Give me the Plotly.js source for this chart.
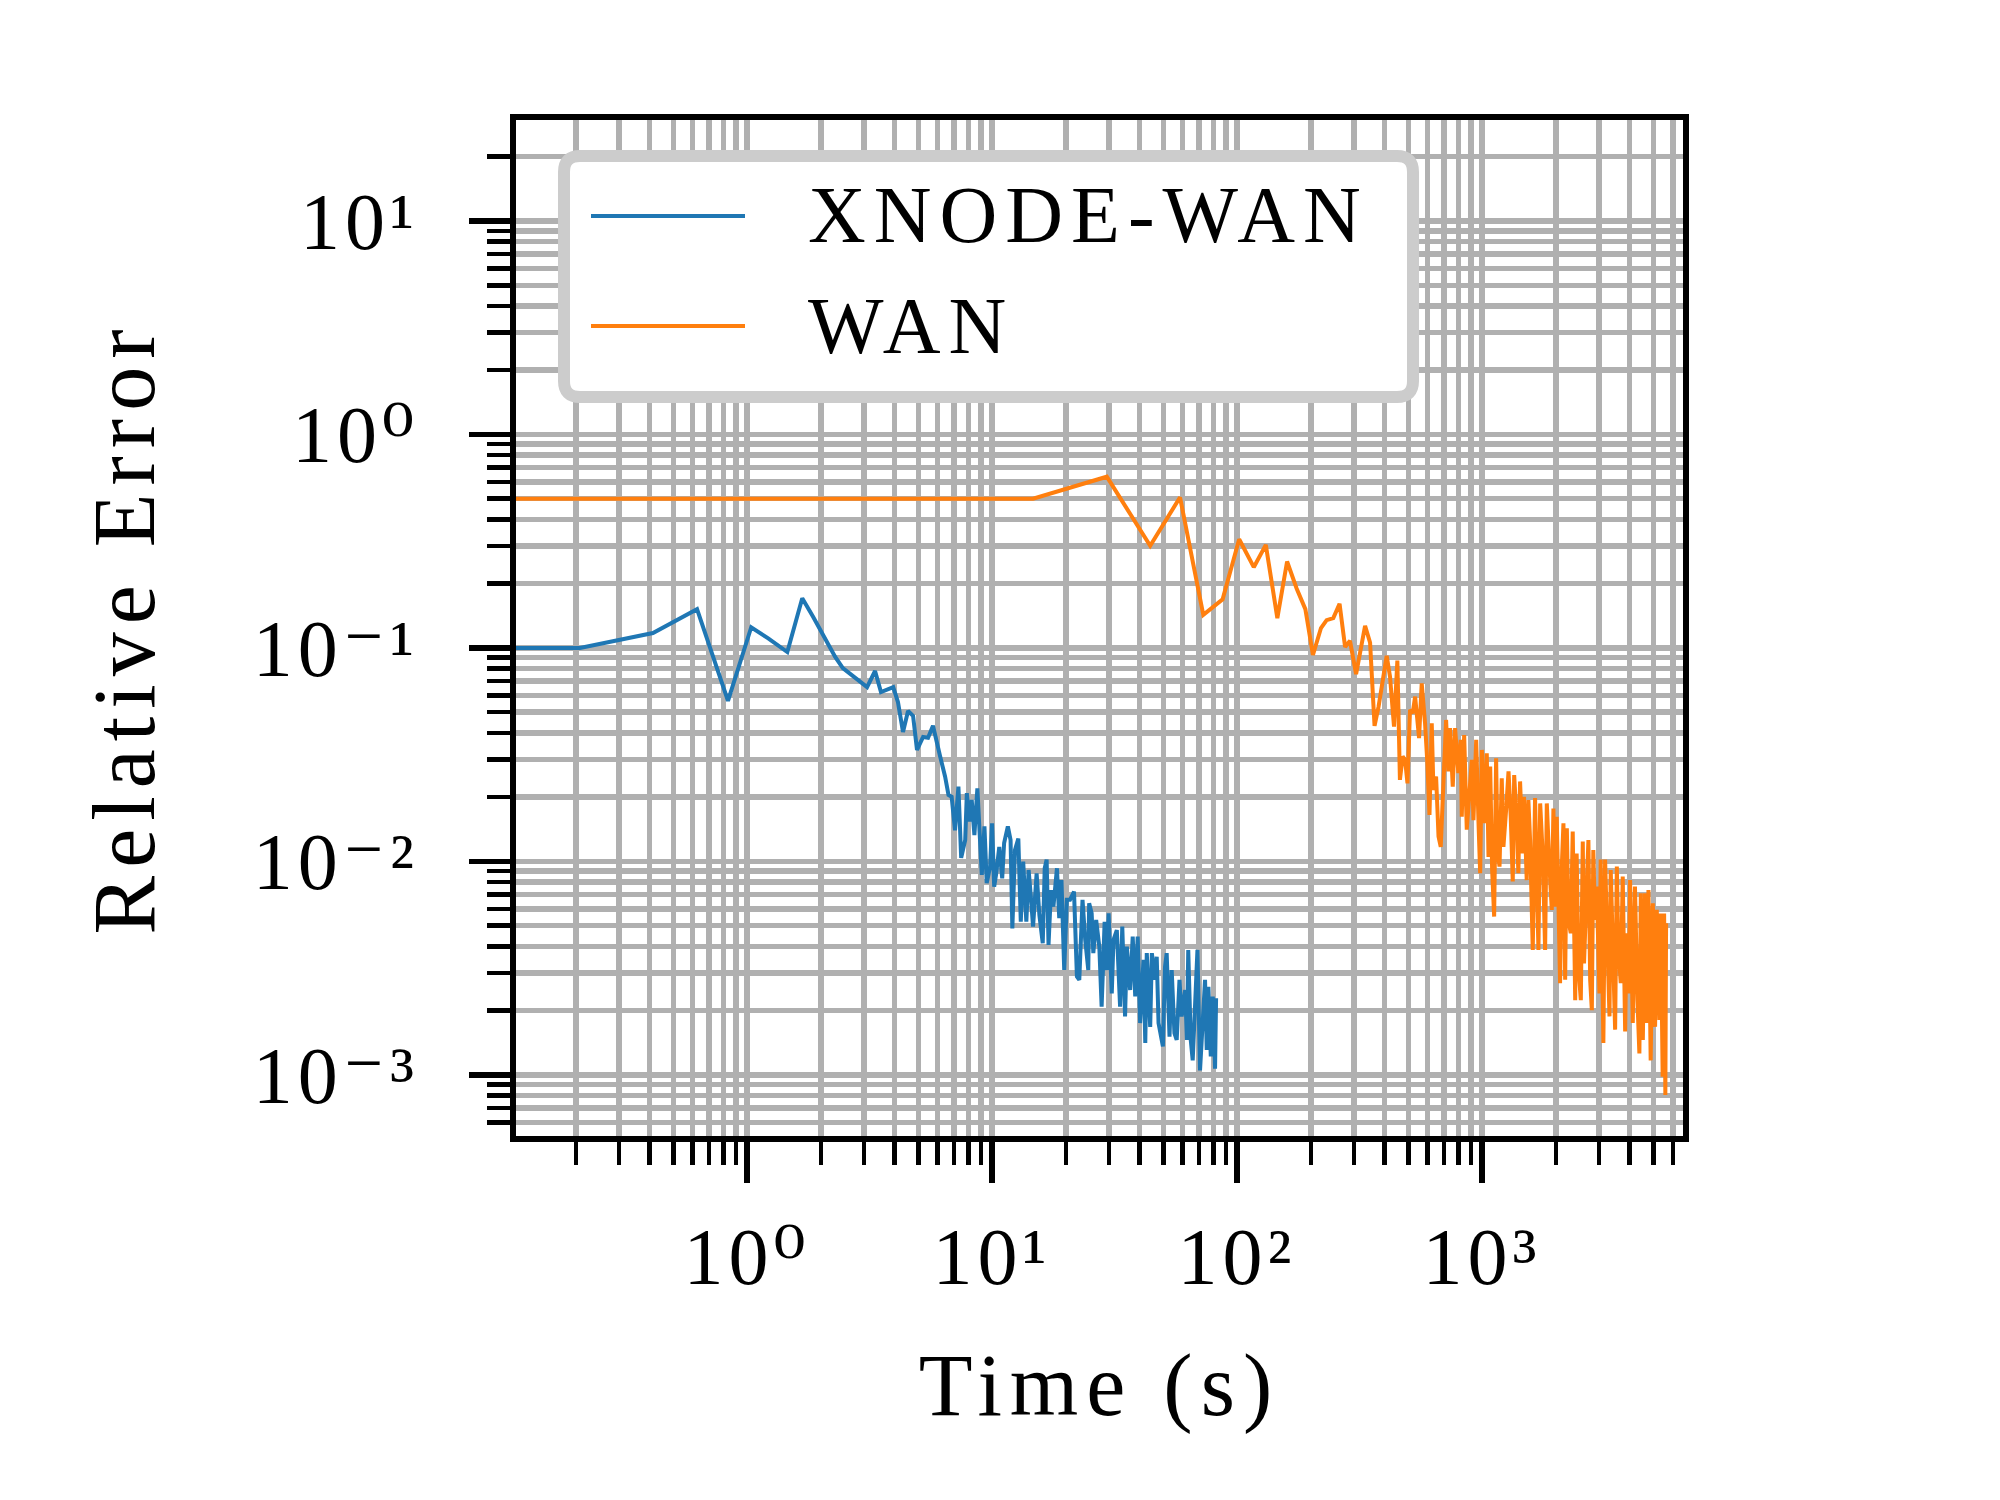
<!DOCTYPE html>
<html>
<head>
<meta charset="utf-8">
<script src="https://cdn.plot.ly/plotly-3.0.1.min.js"></script>
<style>
  html, body { margin: 0; padding: 0; background: #ffffff; }
  #chart { width: 2000px; height: 1500px; }
  .xtick text, .ytick text { letter-spacing: 5px; }
  .xtitle, .ytitle { letter-spacing: 8px; }
  .annotation-text { letter-spacing: 8px; }
</style>
</head>
<body>
<div id="chart"></div>
<script>
// ---------------- data ----------------
const seriesNames = ['XNODE-WAN', 'WAN'];

const xnodeTime = [
  0.11, 0.208, 0.413, 0.625, 0.836, 1.04, 1.22, 1.46, 1.68, 1.86,
  2.29, 2.46, 3.09, 3.33, 3.52, 3.95, 4.13, 4.33, 4.54, 4.76,
  4.94, 5.23, 5.48, 5.74,
  6.14, 6.43, 6.64, 6.84, 7.06, 7.29, 7.48, 7.77, 7.89, 8.09,
  8.26, 8.47, 8.71, 9.08, 9.31, 9.51, 9.82, 10.0, 10.2, 10.4,
  10.7, 11.0, 11.2, 11.6, 11.9, 12.1, 12.4, 12.8, 13.1, 13.4,
  13.8, 14.1, 14.4, 14.7, 15.2, 15.6, 16.1, 16.4, 16.7, 17.0,
  17.4, 17.8, 18.4, 18.8, 19.2, 19.7, 20.2, 20.8, 21.6, 22.2,
  22.7, 23.4, 24.0, 24.7, 24.9, 25.5, 25.9, 26.6, 27.4, 28.0,
  28.8, 29.4, 29.9, 30.8, 31.3, 32.3, 33.3, 34.0, 34.9, 35.5,
  36.6, 37.5, 38.4, 39.3, 40.2, 41.5, 42.2, 42.8, 44.2, 44.9,
  46.3, 47.0, 47.8, 49.0, 49.8, 50.8, 51.6, 53.0, 54.1, 55.5,
  56.7, 58.2, 59.4, 61.4, 62.4, 63.2, 64.7, 65.9, 67.4, 68.9,
  70.6, 72.4, 74.0, 75.2, 76.4, 78.1, 79.6, 81.3, 82.1
];
const xnodeError = [
  0.1, 0.1, 0.1175, 0.152, 0.0565, 0.125, 0.111, 0.0957, 0.171, 0.140,
  0.0908, 0.0805, 0.0656, 0.078, 0.0622, 0.0656, 0.0558, 0.0404, 0.0507, 0.0481,
  0.0333, 0.0383, 0.038, 0.0432,
  0.0310, 0.0250, 0.0205, 0.0201, 0.0140, 0.0224, 0.0104, 0.0126, 0.0209, 0.0154,
  0.0194, 0.0133, 0.0220, 0.00865, 0.0146, 0.00791, 0.00946, 0.0151, 0.00762, 0.00879,
  0.0117, 0.00834, 0.0122, 0.0146, 0.0126, 0.00486, 0.0113, 0.0128, 0.00522, 0.00998,
  0.00522, 0.00912, 0.00684, 0.00495, 0.00879, 0.00561, 0.00414, 0.00929, 0.0102, 0.00406,
  0.00734, 0.00614, 0.00929, 0.00542, 0.00818, 0.00310, 0.00661, 0.00661, 0.00722, 0.00289,
  0.00279, 0.00661, 0.00429, 0.00310, 0.00637, 0.00571, 0.00372, 0.00532, 0.00399, 0.00209,
  0.00522, 0.00310, 0.00571, 0.00241, 0.00429, 0.00477, 0.00209, 0.00495, 0.00188, 0.00399,
  0.00250, 0.00445, 0.00233, 0.00445, 0.00175, 0.00346, 0.00141, 0.00372, 0.00168, 0.00372,
  0.00279, 0.00358, 0.00175, 0.00146, 0.00136, 0.00321, 0.00372, 0.00151, 0.00310, 0.00157,
  0.00146, 0.00279, 0.00188, 0.00250, 0.00146, 0.00385, 0.00146, 0.00117, 0.00195, 0.00385,
  0.00105, 0.00188, 0.00279, 0.00131, 0.00259, 0.00122, 0.00233, 0.00107, 0.00229
];

const wanTime = [
  0.11, 14.7, 29.4, 44.2, 58.5, 72.8, 87.3, 102, 117, 131,
  146, 160, 175, 190, 204, 220, 232, 247, 262, 276,
  289, 306, 333, 349, 364, 378, 408, 421, 437, 451,
  462, 474, 485, 496, 508, 521, 533, 541, 553, 567,
  585, 598, 610, 623, 633, 649, 664, 678, 695, 713,
  728, 740, 759, 776, 800, 818, 826, 845, 866, 888,
  908, 922, 946, 967, 982, 998, 1020, 1045, 1062, 1079,
  1099, 1120, 1141, 1156, 1178, 1203, 1222, 1253, 1282, 1309,
  1334, 1352, 1386, 1406, 1429, 1466, 1483, 1521, 1545, 1570,
  1610, 1645, 1671, 1698, 1726, 1770, 1808, 1837, 1884, 1925,
  1955, 1986, 2017, 2081, 2115, 2148, 2183, 2218, 2250, 2301,
  2344, 2399, 2432, 2472, 2529, 2576, 2606, 2673, 2716, 2761,
  2805, 2844, 2891, 2938, 3013, 3048, 3126, 3177, 3251, 3311,
  3350, 3412, 3491, 3548, 3597, 3681, 3750, 3836, 3890, 3972,
  4018, 4121, 4207, 4305, 4385, 4446, 4529, 4624, 4699, 4775,
  4876, 4977, 5082, 5164, 5292, 5358, 5458, 5533, 5597, 5636
];
const wanError = [
  0.5, 0.5, 0.634, 0.301, 0.508, 0.143, 0.169, 0.323, 0.239, 0.304,
  0.138, 0.254, 0.190, 0.152, 0.0927, 0.124, 0.135, 0.138, 0.161, 0.101,
  0.108, 0.0755, 0.127, 0.106, 0.0432, 0.0531, 0.0918, 0.0734, 0.0428, 0.0873,
  0.0241, 0.0310, 0.0299, 0.0232, 0.0513, 0.0495, 0.0592, 0.0495, 0.0378, 0.0683,
  0.0444, 0.0288, 0.0165, 0.0444, 0.0216, 0.0250, 0.0131, 0.0117, 0.0250, 0.0460,
  0.0264, 0.0421, 0.0224, 0.0421, 0.0259, 0.0371, 0.0162, 0.0391, 0.0141, 0.0209,
  0.0299, 0.0156, 0.0371, 0.0151, 0.00881, 0.0333, 0.0151, 0.0321, 0.0105, 0.0278,
  0.00912, 0.00552, 0.0304, 0.0113, 0.00946, 0.0245, 0.0117, 0.0174, 0.0264, 0.0162,
  0.00805, 0.0254, 0.0151, 0.00881, 0.0237, 0.0109, 0.0201, 0.00818, 0.0194, 0.0126,
  0.00385, 0.0198, 0.00946, 0.00385, 0.0187, 0.0105, 0.00385, 0.0187, 0.00946, 0.00593,
  0.0177, 0.00614, 0.0162, 0.00269, 0.00946, 0.0151, 0.00279, 0.0143, 0.00532, 0.00461,
  0.0138, 0.00224, 0.0109, 0.00321, 0.00224, 0.0124, 0.00333, 0.00684, 0.0126, 0.00279,
  0.00201, 0.0113, 0.00532, 0.00762, 0.00241, 0.0102, 0.00141, 0.0102, 0.00372, 0.00188,
  0.00912, 0.00429, 0.00163, 0.00946, 0.00399, 0.00269, 0.00849, 0.00160, 0.00461, 0.00241,
  0.00818, 0.00175, 0.00762, 0.00224, 0.00126, 0.00710, 0.00146, 0.00710, 0.00175, 0.00734,
  0.00117, 0.00637, 0.00168, 0.00593, 0.00181, 0.00571, 0.00098, 0.00571, 0.000805, 0.00513
];

const xTickVals = [1, 10, 100, 1000];
const xTickText = ['10\u2070', '10\u00b9', '10\u00b2', '10\u00b3'];
const yTickVals = [0.001, 0.01, 0.1, 1, 10];
const yTickText = ['10\u207b\u00b3', '10\u207b\u00b2', '10\u207b\u00b9', '10\u2070', '10\u00b9'];
const xTitle = 'Time (s)';
const yTitle = 'Relative Error';

// ---------------- styling / layout ----------------
const W = 2000, H = 1500;
const L = 516, R = 1683, T = 120, B = 1136;
const X_RANGE = [-0.943, 3.820];
const Y_RANGE = [-3.286, 1.473];
const FONT = '"Liberation Serif", "DejaVu Serif", serif';
const TICK_SIZE = 80;
const GRID = '#b0b0b0';
const COLORS = ['#1f77b4', '#ff7f0e'];

function minorVals(lo, hi) {
  const out = [];
  for (let k = lo; k <= hi; k++) {
    for (let m = 2; m <= 9; m++) out.push(m * Math.pow(10, k));
  }
  return out;
}

const px = x => (x - L) / (R - L);
const py = y => (B - y) / (B - T);

function roundRect(x0, y0, x1, y1, r) {
  const X0 = px(x0), X1 = px(x1), Y0 = py(y0), Y1 = py(y1);
  const rx = r / (R - L), ry = r / (B - T);
  return 'M' + (X0 + rx) + ',' + Y0 +
    ' L' + (X1 - rx) + ',' + Y0 +
    ' Q' + X1 + ',' + Y0 + ' ' + X1 + ',' + (Y0 - ry) +
    ' L' + X1 + ',' + (Y1 + ry) +
    ' Q' + X1 + ',' + Y1 + ' ' + (X1 - rx) + ',' + Y1 +
    ' L' + (X0 + rx) + ',' + Y1 +
    ' Q' + X0 + ',' + Y1 + ' ' + X0 + ',' + (Y1 + ry) +
    ' L' + X0 + ',' + (Y0 - ry) +
    ' Q' + X0 + ',' + Y0 + ' ' + (X0 + rx) + ',' + Y0 + ' Z';
}

const traces = [
  { x: xnodeTime, y: xnodeError, name: seriesNames[0], type: 'scatter', mode: 'lines',
    line: { color: COLORS[0], width: 4 } },
  { x: wanTime, y: wanError, name: seriesNames[1], type: 'scatter', mode: 'lines',
    line: { color: COLORS[1], width: 4 } }
];

const axisCommon = {
  type: 'log',
  showgrid: true, gridcolor: GRID, gridwidth: 5.5,
  showline: true, linecolor: '#000000', linewidth: 6, mirror: true,
  ticks: 'outside', ticklen: 41, tickwidth: 5.5, tickcolor: '#000000',
  tickfont: { family: FONT, size: TICK_SIZE, color: '#000000' },
  tickangle: 0,
  zeroline: false,
  automargin: false
};

const layout = {
  width: W, height: H,
  paper_bgcolor: '#ffffff', plot_bgcolor: '#ffffff',
  margin: { l: L, r: W - R, t: T, b: H - B, pad: 0 },
  showlegend: false,
  hovermode: false,
  font: { family: FONT, color: '#000000' },
  xaxis: Object.assign({}, axisCommon, {
    range: X_RANGE,
    tickmode: 'array', tickvals: xTickVals, ticktext: xTickText,
    ticklabelstandoff: 5,
    minor: { tickmode: 'array', tickvals: minorVals(-1, 3), ticks: 'outside', ticklen: 23,
             tickwidth: 4.5, tickcolor: '#000000', showgrid: true, gridcolor: GRID, gridwidth: 5.5 },
    title: { text: xTitle, font: { family: FONT, size: 88, color: '#000000' }, standoff: 55 }
  }),
  yaxis: Object.assign({}, axisCommon, {
    range: Y_RANGE,
    tickmode: 'array', tickvals: yTickVals, ticktext: yTickText,
    ticklabelstandoff: 34,
    minor: { tickmode: 'array', tickvals: minorVals(-4, 1), ticks: 'outside', ticklen: 23,
             tickwidth: 4.5, tickcolor: '#000000', showgrid: true, gridcolor: GRID, gridwidth: 5.5 },
    title: { text: yTitle, font: { family: FONT, size: 88, color: '#000000' }, standoff: 71 }
  }),
  shapes: [
    { type: 'path', xref: 'paper', yref: 'paper', layer: 'above',
      path: roundRect(564, 156, 1413, 397, 16),
      fillcolor: '#ffffff', line: { color: '#cccccc', width: 12 } },
    { type: 'line', xref: 'paper', yref: 'paper', layer: 'above',
      x0: px(591), x1: px(745), y0: py(216), y1: py(216),
      line: { color: COLORS[0], width: 4 } },
    { type: 'line', xref: 'paper', yref: 'paper', layer: 'above',
      x0: px(591), x1: px(745), y0: py(326), y1: py(326),
      line: { color: COLORS[1], width: 4 } }
  ],
  annotations: [
    { xref: 'paper', yref: 'paper', x: px(806), y: py(215), xanchor: 'left', yanchor: 'middle',
      text: seriesNames[0], showarrow: false, font: { family: FONT, size: 80, color: '#000000' } },
    { xref: 'paper', yref: 'paper', x: px(806), y: py(326), xanchor: 'left', yanchor: 'middle',
      text: seriesNames[1], showarrow: false, font: { family: FONT, size: 80, color: '#000000' } }
  ]
};

Plotly.newPlot('chart', traces, layout, { staticPlot: true, displayModeBar: false });
</script>
</body>
</html>
